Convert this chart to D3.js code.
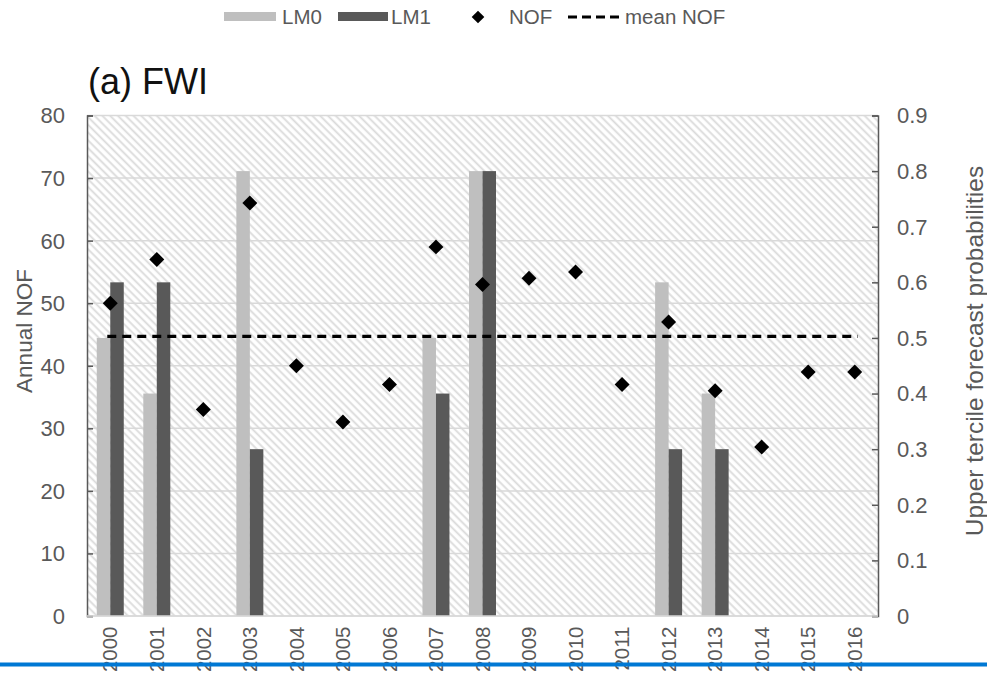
<!DOCTYPE html>
<html>
<head>
<meta charset="utf-8">
<script src="https://cdn.jsdelivr.net/npm/d3@7"></script>
<style>
  html, body { margin: 0; padding: 0; background: #fff; }
  svg { display: block; font-family: "Liberation Sans", Arial, sans-serif; }
</style>
</head>
<body>
<svg id="chart" width="987" height="674"></svg>
<script>
// Years on the category axis
const years = ["2000","2001","2002","2003","2004","2005","2006","2007","2008",
               "2009","2010","2011","2012","2013","2014","2015","2016"];
// Upper tercile forecast probabilities (right axis)
const lm0 = [0.5,0.4,0,0.8,0,0,0,0.5,0.8,0,0,0,0.6,0.4,0,0,0];
const lm1 = [0.6,0.6,0,0.3,0,0,0,0.4,0.8,0,0,0,0.3,0.3,0,0,0];
// Annual number of fires (left axis)
const nof = [50,57,33,66,40,31,37,59,53,54,55,37,47,36,27,39,39];
// Axis ticks
const leftTicks = [0,10,20,30,40,50,60,70,80];
const rightTicks = [0,0.1,0.2,0.3,0.4,0.5,0.6,0.7,0.8,0.9];

const svg = d3.select("#chart");
const plot = { left: 87, right: 878, top: 115.5, bottom: 616 };
const textGray = "#595959";

const x = d3.scaleBand().domain(years).range([plot.left, plot.right])
  .paddingInner(0.42).paddingOuter(0.21);
const xSub = d3.scaleBand().domain(["LM0","LM1"]).range([0, x.bandwidth()]);
const xc = d => x(d) + x.bandwidth() / 2;
const yL = d3.scaleLinear().domain([0, 80]).range([plot.bottom, plot.top]);
const yR = d3.scaleLinear().domain([0, 0.9]).range([plot.bottom, plot.top]);

// Diagonal hatch for the plot background
const defs = svg.append("defs");
const pat = defs.append("pattern").attr("id", "hatch")
  .attr("patternUnits", "userSpaceOnUse").attr("width", 5.5).attr("height", 5.5)
  .attr("patternTransform", "rotate(-45)");
pat.append("rect").attr("width", 5.5).attr("height", 5.5).attr("fill", "#fff");
pat.append("line").attr("x1", 1.5).attr("y1", 0).attr("x2", 1.5).attr("y2", 5.5)
  .attr("stroke", "#dadada").attr("stroke-width", 1.8);

svg.append("rect").attr("x", plot.left).attr("y", plot.top)
  .attr("width", plot.right - plot.left).attr("height", plot.bottom - plot.top)
  .attr("fill", "url(#hatch)");

// Horizontal gridlines on the left-axis ticks
svg.append("g").selectAll("line").data(leftTicks).join("line")
  .attr("x1", plot.left).attr("x2", plot.right)
  .attr("y1", d => yL(d)).attr("y2", d => yL(d))
  .attr("stroke", "#d9d9d9").attr("stroke-width", 1.5);

// Bars
const bars = svg.append("g");
years.forEach((yr, i) => {
  [["LM0", lm0[i], "#bfbfbf"], ["LM1", lm1[i], "#595959"]].forEach(([k, v, c]) => {
    if (v > 0) {
      bars.append("rect")
        .attr("x", x(yr) + xSub(k)).attr("width", xSub.bandwidth())
        .attr("y", yR(v)).attr("height", yR(0) - yR(v)).attr("fill", c);
    }
  });
});

// Mean NOF line
const meanNof = d3.mean(nof);
svg.append("line")
  .attr("x1", xc(years[0]) - 3).attr("x2", xc(years[years.length - 1]) + 3)
  .attr("y1", yL(meanNof)).attr("y2", yL(meanNof))
  .attr("stroke", "#000").attr("stroke-width", 3.2).attr("stroke-dasharray", "9,6");

// NOF diamonds
svg.append("g").selectAll("path").data(nof).join("path")
  .attr("d", d3.symbol().type(d3.symbolSquare).size(112))
  .attr("transform", (d, i) => `translate(${xc(years[i])},${yL(d)}) rotate(45)`)
  .attr("fill", "#000");

// Left axis
const axL = svg.append("g").attr("transform", `translate(${plot.left},0)`)
  .call(d3.axisRight(yL).tickValues(leftTicks).tickSize(6).tickFormat(""));
axL.select(".domain").attr("stroke", textGray).attr("stroke-width", 1.5);
axL.selectAll(".tick line").attr("stroke", textGray).attr("stroke-width", 1.5);
svg.append("g").selectAll("text").data(leftTicks).join("text")
  .attr("x", 65).attr("y", d => yL(d)).attr("dy", "0.36em")
  .attr("text-anchor", "end").attr("font-size", 22).attr("fill", textGray)
  .text(d => d);

// Right axis
const axR = svg.append("g").attr("transform", `translate(${plot.right},0)`)
  .call(d3.axisLeft(yR).tickValues(rightTicks).tickSize(6).tickFormat(""));
axR.select(".domain").attr("stroke", textGray).attr("stroke-width", 1.5);
axR.selectAll(".tick line").attr("stroke", textGray).attr("stroke-width", 1.5);
svg.append("g").selectAll("text").data(rightTicks).join("text")
  .attr("x", 897).attr("y", d => yR(d)).attr("dy", "0.36em")
  .attr("text-anchor", "start").attr("font-size", 22).attr("fill", textGray)
  .text(d => d === 0 ? "0" : d3.format(".1f")(d));

// Baseline
svg.append("line").attr("x1", plot.left).attr("x2", plot.right)
  .attr("y1", plot.bottom).attr("y2", plot.bottom)
  .attr("stroke", "#d9d9d9").attr("stroke-width", 1.5);

// Year labels (vertical)
svg.append("g").selectAll("text").data(years).join("text")
  .attr("transform", d => `translate(${xc(d) + 7.2},626.5) rotate(-90)`)
  .attr("text-anchor", "end").attr("font-size", 20.5).attr("fill", textGray)
  .text(d => d);

// Axis titles
svg.append("text").attr("transform", "translate(32,331) rotate(-90)")
  .attr("text-anchor", "middle").attr("font-size", 22.5).attr("fill", textGray)
  .text("Annual NOF");
svg.append("text").attr("transform", "translate(983,351) rotate(-90)")
  .attr("text-anchor", "middle").attr("font-size", 24.5).attr("fill", textGray)
  .text("Upper tercile forecast probabilities");

// Title
svg.append("text").attr("x", 88).attr("y", 94).attr("font-size", 36)
  .attr("fill", "#111").text("(a) FWI");

// Legend
const lg = svg.append("g").attr("font-size", 20.5).attr("fill", textGray);
lg.append("rect").attr("x", 224).attr("y", 12).attr("width", 52).attr("height", 9).attr("fill", "#bfbfbf");
lg.append("text").attr("x", 282).attr("y", 24).text("LM0");
lg.append("rect").attr("x", 338).attr("y", 12).attr("width", 50).attr("height", 9).attr("fill", "#595959");
lg.append("text").attr("x", 391).attr("y", 24).text("LM1");
lg.append("path").attr("d", d3.symbol().type(d3.symbolSquare).size(80))
  .attr("transform", "translate(478,17) rotate(45)").attr("fill", "#000");
lg.append("text").attr("x", 509).attr("y", 24).text("NOF");
lg.append("line").attr("x1", 568).attr("x2", 621).attr("y1", 17).attr("y2", 17)
  .attr("stroke", "#000").attr("stroke-width", 3.2).attr("stroke-dasharray", "9,5");
lg.append("text").attr("x", 625).attr("y", 24).text("mean NOF");

// Blue rule across the bottom edge
svg.append("rect").attr("x", 0).attr("y", 662.5).attr("width", 987).attr("height", 4)
  .attr("fill", "#0078d4");
</script>
</body>
</html>
